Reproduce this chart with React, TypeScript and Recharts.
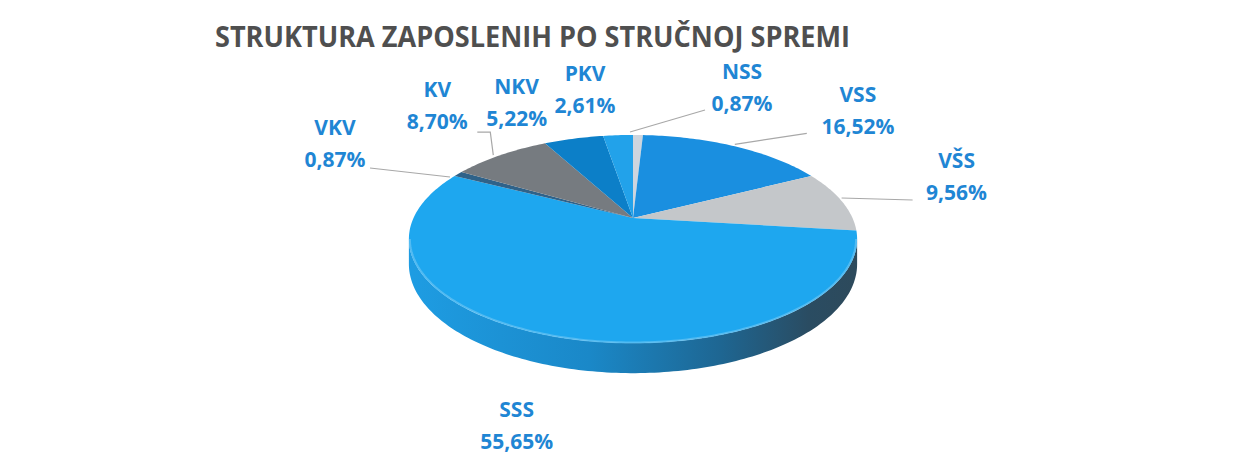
import React from 'react';
import { PieChart, Pie } from 'recharts';

const TITLE = 'STRUKTURA ZAPOSLENIH PO STRUČNOJ SPREMI';
const CATEGORIES = ['NSS', 'VSS', 'VŠS', 'SSS', 'VKV', 'KV', 'NKV', 'PKV'];
const PERCENTS = [0.87, 16.52, 9.56, 55.65, 0.87, 8.7, 5.22, 2.61];
const TOP_COLORS = ['#cdd5de', '#1a8fe0', '#c4c7ca', '#1ea7ef', '#2f6289', '#767b80', '#0c7fc8', '#22a2ea'];
const SIDE_COLORS = ['#9aa3ad', '#136aa8', '#8d9094', 'url(#sssSide)', '#203f58', '#55595d', '#0a5c92', '#1878b0'];

// label layout (offsets from slice rim anchor), style only
const LABEL_LAYOUT: { dx: number; dy: number; line?: number[][] }[] = [
  { dx: 104, dy: -47, line: [[-8, -3], [67, -25]] },
  { dx: 123, dy: -36, line: [[0, -2], [72, -13]] },
  { dx: 115, dy: -24, line: [[0, -3], [71, -1]] },
  { dx: -36, dy: 89 },
  { dx: -123, dy: -31, line: [[-8, 3], [-88, -6]] },
  { dx: -63, dy: -50, line: [[-7, 0], [-10, -23], [-23, -23]] },
  { dx: -57, dy: -36 },
  { dx: -33, dy: -46 },
];

const data = CATEGORIES.map((name, i) => ({ name, value: PERCENTS[i], idx: i }));

const PERSPECTIVE = -0.202;
const Y_RATIO = 0.4547;
const DEPTH = 24;
const FRONT_FROM = -168.3;
const FRONT_TO = -11.7;

function proj(cx: number, cy: number, a: number, deg: number) {
  const t = (deg * Math.PI) / 180;
  const X = Math.cos(t);
  const Z = -Math.sin(t);
  const den = 1 + PERSPECTIVE * Z;
  return { x: cx + (a * X) / den, y: cy + (a * Y_RATIO * Z) / den, den };
}

function arcPts(cx: number, cy: number, a: number, from: number, to: number) {
  const n = Math.max(2, Math.ceil(Math.abs(to - from)) + 1);
  const pts = [];
  for (let k = 0; k < n; k++) {
    const d = from + ((to - from) * k) / (n - 1);
    pts.push(proj(cx, cy, a, d));
  }
  return pts;
}

function getIdx(p: any) {
  if (typeof p.idx === 'number') return p.idx;
  if (p.payload && typeof p.payload.idx === 'number') return p.payload.idx;
  return p.index ?? 0;
}

function WallShape(p: any) {
  const { cx, cy, outerRadius, startAngle, endAngle } = p;
  const i = getIdx(p);
  const hi = Math.max(startAngle, endAngle);
  const lo = Math.min(startAngle, endAngle);
  const parts: string[] = [];
  for (const shift of [0, -360, 360]) {
    const a1 = Math.min(hi, FRONT_TO + shift);
    const a2 = Math.max(lo, FRONT_FROM + shift);
    if (a1 > a2) {
      const top = arcPts(cx, cy, outerRadius, a1, a2);
      const bottom = top
        .slice()
        .reverse()
        .map((q) => ({ x: q.x, y: q.y + DEPTH / q.den }));
      const all = [...top, ...bottom];
      parts.push('M' + all.map((q) => `${q.x.toFixed(2)},${q.y.toFixed(2)}`).join('L') + 'Z');
    }
  }
  return (
    <g>
      <defs>
        <linearGradient id="sssSide" gradientUnits="userSpaceOnUse" x1={cx - outerRadius} y1={0} x2={cx + outerRadius} y2={0}>
          <stop offset="0" stopColor="#1e9ce2" />
          <stop offset="0.4" stopColor="#1a88c8" />
          <stop offset="0.7" stopColor="#1e6692" />
          <stop offset="0.9" stopColor="#2a4c62" />
          <stop offset="1" stopColor="#2d4a5c" />
        </linearGradient>
      </defs>
      {parts.map((d, k) => (
        <path key={k} d={d} fill={SIDE_COLORS[i]} stroke="none" />
      ))}
    </g>
  );
}

function TopShape(p: any) {
  const { cx, cy, outerRadius, startAngle, endAngle } = p;
  const i = getIdx(p);
  const pts = arcPts(cx, cy, outerRadius, startAngle, endAngle);
  const d = `M${cx},${cy}L` + pts.map((q) => `${q.x.toFixed(2)},${q.y.toFixed(2)}`).join('L') + 'Z';
  const hi = Math.max(startAngle, endAngle);
  const lo = Math.min(startAngle, endAngle);
  const a1 = Math.min(hi, FRONT_TO);
  const a2 = Math.max(lo, FRONT_FROM);
  let rim = null;
  if (a1 > a2) {
    const rp = arcPts(cx, cy, outerRadius - 1, a1, a2);
    rim = (
      <polyline
        points={rp.map((q) => `${q.x.toFixed(2)},${q.y.toFixed(2)}`).join(' ')}
        fill="none"
        stroke="#74c8f4"
        strokeWidth={2}
        strokeOpacity={0.6}
      />
    );
  }
  return (
    <g>
      <path d={d} fill={TOP_COLORS[i]} stroke="none" />
      {rim}
    </g>
  );
}

const LABEL_COLOR = '#1f86d4';
const FONT = "'Open Sans', 'DejaVu Sans', sans-serif";

function renderLabel(p: any) {
  const { cx, cy, outerRadius, midAngle } = p;
  const i = getIdx(p);
  const anc = proj(cx, cy, outerRadius, midAngle);
  const lay = LABEL_LAYOUT[i];
  const tx = anc.x + lay.dx;
  const ty = anc.y + lay.dy;
  return (
    <g key={`lbl-${i}`}>
      {lay.line && (
        <polyline
          points={lay.line.map(([x, y]) => `${(anc.x + x).toFixed(1)},${(anc.y + y).toFixed(1)}`).join(' ')}
          fill="none"
          stroke="#a8a8a8"
          strokeWidth={1.2}
        />
      )}
      <text x={tx} y={ty - 16 + 7.5} textAnchor="middle" fill={LABEL_COLOR} fontFamily={FONT} fontWeight={700} fontSize={21}>
        {CATEGORIES[i]}
      </text>
      <text x={tx} y={ty + 16 + 7.5} textAnchor="middle" fill={LABEL_COLOR} fontFamily={FONT} fontWeight={700} fontSize={21}>
        {PERCENTS[i].toFixed(2).replace('.', ',') + '%'}
      </text>
    </g>
  );
}

export default function App() {
  return (
    <div style={{ position: 'relative', width: 1235, height: 449 }}>
      <PieChart width={1235} height={449}>
        <Pie
          data={data}
          dataKey="value"
          nameKey="name"
          cx={620}
          cy={205}
          outerRadius={219.5}
          startAngle={90}
          endAngle={-270}
          isAnimationActive={false}
          shape={WallShape}
          stroke="none"
          label={false}
          labelLine={false}
        />
        <Pie
          data={data}
          dataKey="value"
          nameKey="name"
          cx={620}
          cy={205}
          outerRadius={219.5}
          startAngle={90}
          endAngle={-270}
          isAnimationActive={false}
          shape={TopShape}
          stroke="none"
          label={renderLabel}
          labelLine={false}
        />
      </PieChart>
      <svg width={1235} height={60} style={{ position: 'absolute', left: 0, top: 0, pointerEvents: 'none' }}>
        <text
          x={207}
          y={39}
          fill="#4f4f4f"
          fontFamily={FONT}
          fontWeight={700}
          fontSize={28}
          textLength={635}
          lengthAdjust="spacingAndGlyphs"
        >
          {TITLE}
        </text>
      </svg>
    </div>
  );
}
